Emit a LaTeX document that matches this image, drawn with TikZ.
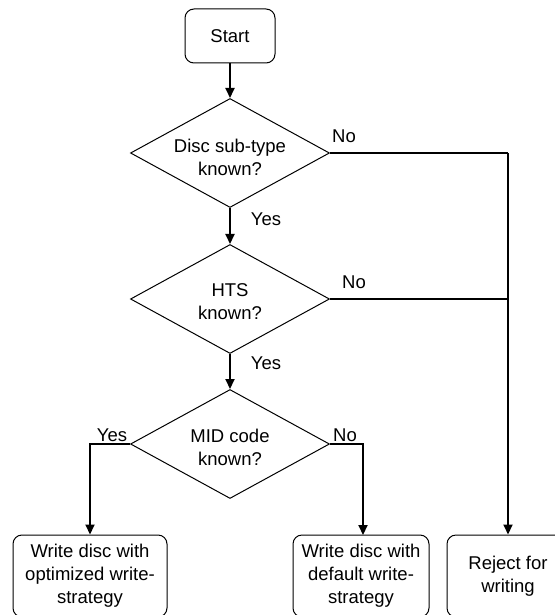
\documentclass[tikz,border=0pt]{standalone}
\usepackage{fontspec}
\setmainfont{Liberation Sans}
\usetikzlibrary{shapes.geometric,arrows.meta}
\begin{document}
\begin{tikzpicture}[x=1pt,y=-1pt,
  every node/.style={font=\fontsize{18.5}{23}\selectfont},
  procbox/.style={draw,line width=1pt,rounded corners=9pt,align=center,inner sep=0pt},
  decision/.style={draw,diamond,line width=1pt,inner sep=0pt,align=center,minimum width=199pt,minimum height=109pt},
  dtext/.style={inner sep=0pt,align=center},
  conn/.style={line width=2pt,-{Triangle[length=10pt,width=9pt]}},
  plain/.style={line width=2pt},
  lbl/.style={inner sep=0pt}]
\useasboundingbox (0,0) rectangle (554,615);
\node[procbox,minimum width=90pt,minimum height=54pt] (start) at (230,36) {Start};
\node[decision] (d1) at (230,153) {};
\node[decision] (d2) at (230,299) {};
\node[decision] (d3) at (230,444) {};
\node[dtext] (t1) at (230,157) {Disc sub-type\\known?};
\node[dtext] (t2) at (230,302) {HTS\\known?};
\node[dtext] (t3) at (230,447) {MID code\\known?};
\node[procbox,minimum width=154pt,minimum height=82pt] (opt) at (90,576) {Write disc with\\optimized write-\\strategy};
\node[procbox,minimum width=136pt,minimum height=82pt] (def) at (361,576) {Write disc with\\default write-\\strategy};
\node[procbox,minimum width=122pt,minimum height=82pt] (rej) at (508,576) {Reject for\\writing};
\coordinate (j1) at (d1.east -| rej.north);
\coordinate (j2) at (d2.east -| rej.north);
\coordinate (jl) at (d3.west -| opt.north);
\coordinate (jr) at (d3.east -| 363,0);
\coordinate (defn) at (363,535);
\draw[conn] (start) -- (d1);
\draw[conn] (d1) -- (d2);
\draw[conn] (d2) -- (d3);
\draw[plain] (d1.east) -- (j1);
\draw[conn] (j1) -- (rej.north);
\draw[plain] (d2.east) -- (j2);
\draw[conn] (d3.west) -- (jl) -- (opt.north);
\draw[conn] (d3.east) -- (jr) -- (defn);
\node[lbl] (no1) at (344,136) {No};
\node[lbl] (yes1) at (266,219) {Yes};
\node[lbl] (no2) at (354,282) {No};
\node[lbl] (yes2) at (266,363) {Yes};
\node[lbl] (yes3) at (112,435) {Yes};
\node[lbl] (no3) at (345,435) {No};
\end{tikzpicture}
\end{document}
